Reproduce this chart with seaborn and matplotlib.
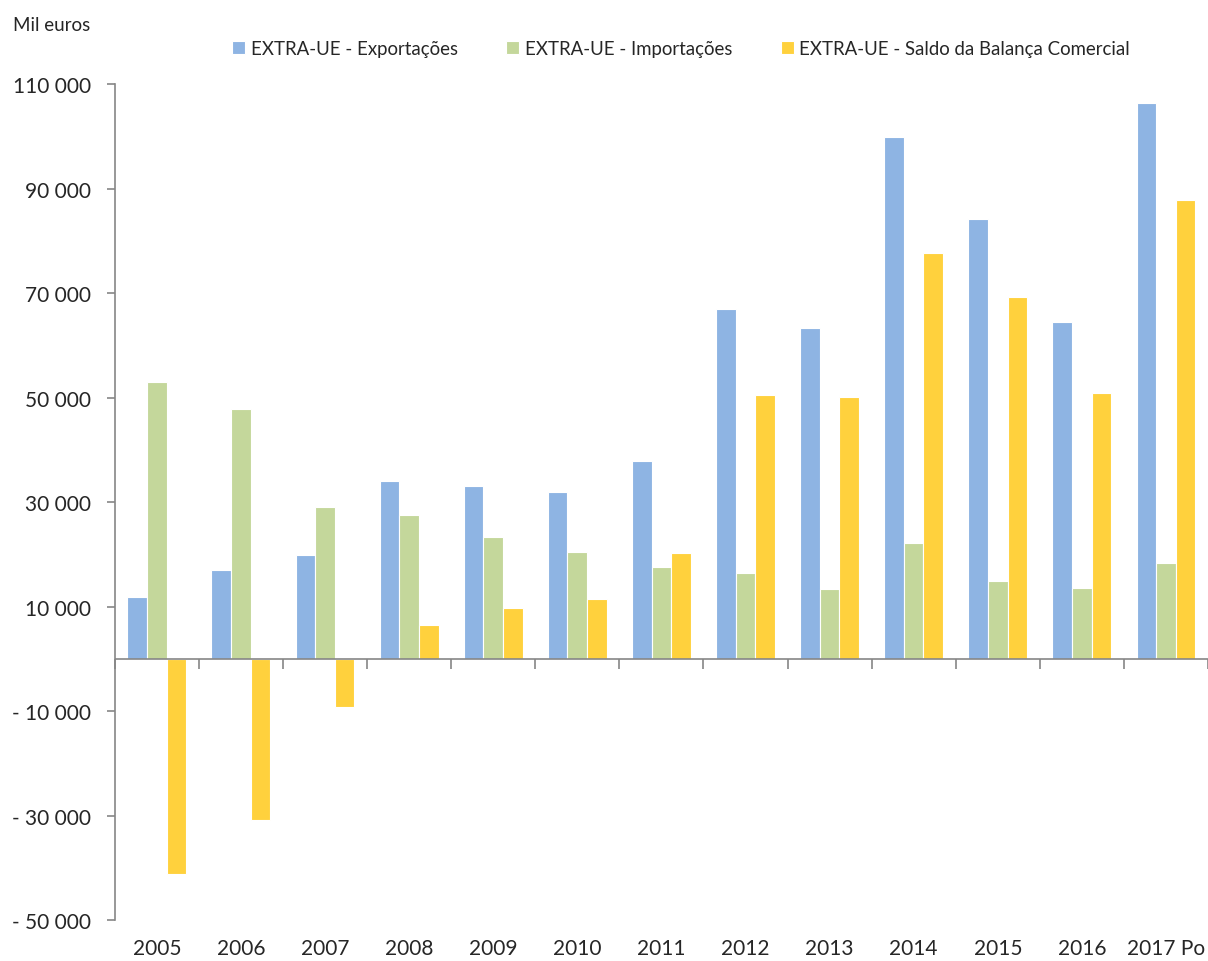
import numpy as np
import pandas as pd
import matplotlib
matplotlib.use('Agg')
import matplotlib.pyplot as plt
import seaborn as sns

# Data (mil euros)
anos = ['2005', '2006', '2007', '2008', '2009', '2010', '2011',
        '2012', '2013', '2014', '2015', '2016', '2017 Po']
exportacoes = [11900, 16900, 19900, 34100, 33100, 32000, 37900,
               67000, 63400, 99900, 84200, 64500, 106300]
importacoes = [53000, 47800, 29100, 27600, 23400, 20500, 17600,
               16500, 13300, 22200, 14800, 13600, 18400]
saldo = [-41100, -30900, -9200, 6500, 9700, 11500, 20200,
         50400, 50100, 77600, 69300, 50900, 87800]

series = ['EXTRA-UE - Exportações', 'EXTRA-UE - Importações',
          'EXTRA-UE - Saldo da Balança Comercial']
cores = ['#8EB4E3', '#C4D79B', '#FFD13D']
yticks = list(range(-50000, 110001, 20000))

df = pd.DataFrame({
    'ano': anos * 3,
    'serie': [series[0]] * len(anos) + [series[1]] * len(anos) + [series[2]] * len(anos),
    'valor': exportacoes + importacoes + saldo,
})

sns.set_style('white')
plt.rcParams['font.family'] = ['Lato', 'DejaVu Sans']

fig = plt.figure(figsize=(12.08, 9.62), dpi=100)
ax = fig.add_axes([0.095, 0.0426, 0.905, 0.869])

sns.barplot(data=df, x='ano', y='valor', hue='serie', hue_order=series,
            palette=cores, width=0.7, edgecolor='white', linewidth=0.8,
            saturation=1, ax=ax, legend=True)

ymin, ymax = yticks[0], yticks[-1]
ax.set_ylim(ymin, ymax)
ax.set_xlim(-0.5, len(anos) - 0.5)
ax.set_yticks(yticks)
ax.set_yticklabels([f'{v:,}'.replace(',', ' ').replace('-', '- ') for v in yticks],
                   fontsize=15)
ax.set_xticks(range(len(anos)))
ax.set_xticklabels(anos, fontsize=15)
ax.tick_params(axis='x', length=0, pad=13)
ax.tick_params(axis='y', direction='out', length=6, width=1.2, color='#868686',
               left=True, pad=11)
ax.set_xlabel('')
ax.set_ylabel('')

for s in ['top', 'right', 'bottom']:
    ax.spines[s].set_visible(False)
ax.spines['left'].set_color('#868686')
ax.spines['left'].set_linewidth(1.2)

# category axis drawn at zero
zero_pos = (0 - ymin) / (ymax - ymin)
ax.axhline(0, color='#868686', lw=1.2, zorder=3)
sec = ax.secondary_xaxis(zero_pos)
sec.set_xticks(np.arange(-0.5, len(anos), 1.0))
sec.set_xticklabels([])
sec.tick_params(direction='out', length=7, width=1.2, color='#868686', top=False, bottom=True)
sec.spines['bottom'].set_visible(False)
sec.spines['top'].set_visible(False)

handles, labels = ax.get_legend_handles_labels()
ax.legend(handles, labels, loc='center', bbox_to_anchor=(0.564, 0.949),
          bbox_transform=fig.transFigure, ncol=3, frameon=False, fontsize=13.4,
          handlelength=0.7, handleheight=0.7, handletextpad=0.3, columnspacing=2.6)

fig.text(0.011, 0.974, 'Mil euros', fontsize=13.5, ha='left', va='center')

fig.savefig('out.png', dpi=100)
